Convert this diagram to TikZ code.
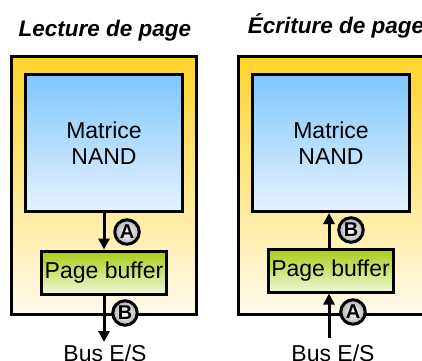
\documentclass[tikz,border=0pt]{standalone}
\usepackage{fontspec}
\setmainfont{Liberation Sans}
\usetikzlibrary{arrows.meta}
\definecolor{goldtop}{HTML}{FFD42A}
\definecolor{goldbot}{HTML}{FFFBEC}
\definecolor{bluetop}{HTML}{7FC6FF}
\definecolor{bluebot}{HTML}{E6F3FF}
\definecolor{limetop}{HTML}{A6CC14}
\definecolor{limebot}{HTML}{F0F8DA}
\tikzset{
  x=1pt, y=-1pt,
  chip/.style={draw=black, line width=3pt, top color=goldtop, bottom color=goldbot,
    minimum width=185pt, minimum height=258pt, inner sep=0pt},
  matrix box/.style={draw=black, line width=3pt, top color=bluetop, bottom color=bluebot,
    minimum width=157pt, minimum height=137pt, align=center, inner sep=0pt,
    font=\fontsize{23}{26}\selectfont},
  bufbox/.style={draw=black, line width=3pt, top color=limetop, bottom color=limebot,
    minimum width=125pt, minimum height=43pt, inner sep=0pt,
    font=\fontsize{23}{26}\selectfont},
  title/.style={font=\fontsize{22.5}{26}\selectfont\bfseries\itshape, anchor=base},
  bus/.style={font=\fontsize{23}{26}\selectfont, anchor=base},
  flow/.style={line width=3pt, -{Triangle[length=11pt,width=11pt]}},
  stage/.style={circle, draw=black, line width=3pt, inner color=white, outer color=gray!60,
    minimum size=24.5pt, inner sep=0pt, font=\fontsize{20}{20}\selectfont\bfseries}
}
\begin{document}
\begin{tikzpicture}
\useasboundingbox (0,0) rectangle (422,360);
\clip (0,0) rectangle (422,360);

% Page read
\node[title] (t1) at (105,36) {Lecture de page};
\node[chip] (o1) at (104,185.5) {};
\node[matrix box] (m1) at (104,143) {Matrice\\NAND};
\node[bufbox] (b1) at (104,272.5) {Page buffer};
\coordinate (e1) at (104,342);
\node[bus] (bus1) at (105,361) {Bus E/S};
\draw[flow] (m1.south -| 104,0) -- (b1.north -| 104,0);
\draw[flow] (b1.south -| 104,0) -- (e1);
\node[stage] (a1) at (127,232) {A};
\node[stage] (c1) at (125,313) {B};

% Page write
\node[title] (t2) at (336,33) {Écriture de page};
\node[chip] (o2) at (331,185) {};
\node[matrix box] (m2) at (331,143) {Matrice\\NAND};
\node[bufbox] (b2) at (330.5,270.5) {Page buffer};
\coordinate (e2) at (329,338);
\node[bus] (bus2) at (333,361) {Bus E/S};
\draw[flow] (b2.north -| 329,0) -- (m2.south -| 329,0);
\draw[flow] (e2) -- (b2.south -| 329,0);
\node[stage] (c2) at (351,230) {B};
\node[stage] (a2) at (353,312) {A};
\end{tikzpicture}
\end{document}
